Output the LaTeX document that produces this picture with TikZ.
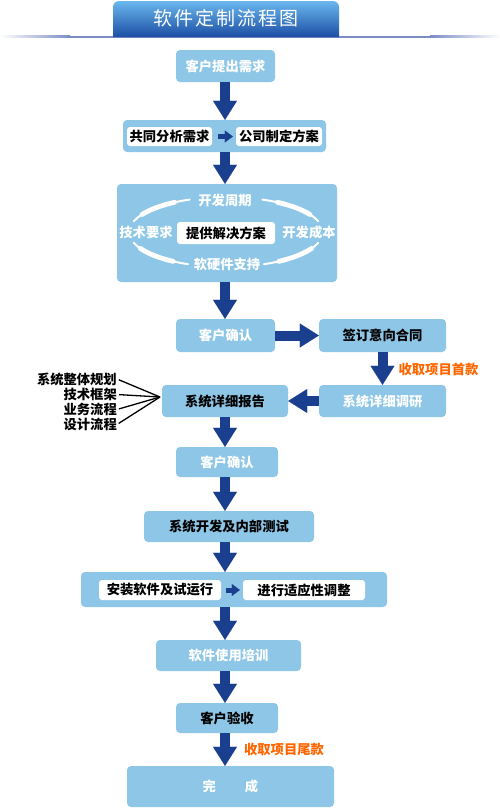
\documentclass[tikz,border=0pt]{standalone}
\usepackage{fontspec}
\setmainfont{Noto Sans CJK SC}
\usetikzlibrary{arrows.meta,calc}
\definecolor{boxblue}{HTML}{8DC6E6}
\definecolor{arrowblue}{HTML}{1B3F8F}
\definecolor{orangetxt}{HTML}{FF6600}
\definecolor{bannertop}{HTML}{6AB8EE}
\definecolor{bannerbot}{HTML}{1C4EA4}
\definecolor{lineblue}{HTML}{7A8CC4}
\begin{document}
\begin{tikzpicture}[x=1pt,y=-1pt,
  txt/.style={font=\fontsize{13.3}{13.3}\selectfont\bfseries},
  box/.style={fill=boxblue, rounded corners=4pt, inner sep=0pt, txt},
  wbox/.style={fill=white, rounded corners=3pt, inner sep=0pt, txt, text=black},
  wtxt/.style={text=white},
  btxt/.style={text=black},
  bigarrow/.style={draw=arrowblue, line width=10pt, -{Triangle[length=19pt,width=24pt,line width=0.01pt]}},
  smallarrow/.style={draw=arrowblue, line width=5pt, -{Triangle[length=8pt,width=12pt,line width=0.01pt]}},
  arcthin/.style={draw=white, line width=2pt, line cap=round},
  arcthick/.style={draw=white, line width=4.8pt, line cap=round},
  side/.style={inner sep=0pt, txt, text=black, anchor=east},
  pay/.style={inner sep=0pt, txt, text=orangetxt},
  fan/.style={draw=black, line width=1.3pt}
]
\useasboundingbox[fill=white] (0,0) rectangle (500,809);

% header line and banner
\shade[left color=white, right color=lineblue] (0,35.5) rectangle (70,37.5);
\fill[lineblue] (70,35.5) rectangle (430,37.5);
\shade[left color=lineblue, right color=white] (430,35.5) rectangle (500,37.5);
\shade[top color=bannertop, bottom color=bannerbot]
  (113,37) -- (113,7) arc[start angle=180,end angle=90,radius=6pt]
  -- (333,1) arc[start angle=90,end angle=0,radius=6pt] -- (339,37) -- cycle;
\node[text=white, font=\fontsize{19}{19}\selectfont, inner sep=0pt] (title) at (226,18)
  {软\kern2pt 件\kern2pt 定\kern2pt 制\kern2pt 流\kern2pt 程\kern2pt 图};

\coordinate (ax) at (225,0);

% boxes
\node[box, wtxt, minimum width=99pt, minimum height=32pt] (t1) at (225.5,66) {客户提出需求};
\node[box, minimum width=203pt, minimum height=32pt] (c2) at (224.5,136) {};
\node[wbox, minimum width=85pt, minimum height=19pt] (w2a) at (169.5,136.5) {共同分析需求};
\node[wbox, minimum width=86pt, minimum height=19pt] (w2b) at (279,136.5) {公司制定方案};

\node[box, minimum width=220pt, minimum height=98pt] (c3) at (227,233) {};
\coordinate (ec) at (226,232);
% tapered white arcs around the centre box
\foreach \a/\b in {162/112, 68/18, 198/247, 293/342}
  \draw[arcthin] (ec) ++(\a:97pt and 35pt)
     arc[start angle=\a,end angle=\b,x radius=97pt,y radius=35pt];
\foreach \a/\b in {150/122, 58/30, 208/237, 303/332}
  \draw[arcthick] (ec) ++(\a:97pt and 35pt)
     arc[start angle=\a,end angle=\b,x radius=97pt,y radius=35pt];
\node[wbox, minimum width=98pt, minimum height=22pt] (w3) at (226,233) {提供解决方案};
\node[txt, wtxt, inner sep=0pt] (k1) at (225,200) {开发周期};
\node[txt, wtxt, inner sep=0pt] (k2) at (146,232) {技术要求};
\node[txt, wtxt, inner sep=0pt] (k3) at (309,232) {开发成本};
\node[txt, wtxt, inner sep=0pt] (k4) at (227,264) {软硬件支持};

\node[box, wtxt, minimum width=99pt, minimum height=33pt] (t4) at (225.5,335.5) {客户确认};
\node[box, btxt, minimum width=127pt, minimum height=33pt] (t5) at (382.5,335.5) {签订意向合同};
\node[box, wtxt, minimum width=127pt, minimum height=32pt] (t6) at (382.5,401) {系统详细调研};
\node[box, btxt, minimum width=126pt, minimum height=32pt] (t7) at (225,401) {系统详细报告};
\node[box, wtxt, minimum width=102pt, minimum height=30pt] (t8) at (227,462) {客户确认};
\node[box, btxt, minimum width=170pt, minimum height=31pt] (t9) at (229,526.5) {系统开发及内部测试};
\node[box, minimum width=306pt, minimum height=35pt] (c10) at (234,589.5) {};
\node[wbox, minimum width=122pt, minimum height=20pt] (w10a) at (160,590) {安装软件及试运行};
\node[wbox, minimum width=122pt, minimum height=20pt] (w10b) at (304,590) {进行适应性调整};
\node[box, wtxt, minimum width=145pt, minimum height=31pt] (t11) at (228.5,655.5) {软件使用培训};
\node[box, btxt, minimum width=102pt, minimum height=30pt] (t12) at (227,718) {客户验收};
\node[box, wtxt, minimum width=207pt, minimum height=41pt] (t13) at (230.5,786.5) {完\hspace{29pt}成};

% side notes
\node[side] (l1) at (117,379) {系统整体规划};
\node[side] (l2) at (117,394.5) {技术框架};
\node[side] (l3) at (117,409.5) {业务流程};
\node[side] (l4) at (117,424.5) {设计流程};
\coordinate (fanpt) at (160,397);
\foreach \n in {l1,l2,l3,l4}
  \draw[fan, shorten <=2pt] (\n.east) -- (fanpt);

% payment labels
\node[pay] (o1) at (438.5,369) {收取项目首款};
\node[pay] (o2) at (284,749) {收取项目尾款};

% arrows
\draw[bigarrow] (t1.south -| ax) -- (c2.north -| ax);
\draw[smallarrow, shorten <=6pt, shorten >=3pt] (w2a.east) -- (w2b.west);
\draw[bigarrow] (c2.south -| ax) -- (c3.north -| ax);
\draw[bigarrow] (c3.south -| ax) -- (t4.north -| ax);
\draw[bigarrow] (t4.east) -- (t5.west);
\draw[bigarrow] (t5.south) -- (t6.north);
\draw[bigarrow] (t6.west) -- (t7.east);
\draw[bigarrow] (t7.south -| ax) -- (t8.north -| ax);
\draw[bigarrow] (t8.south -| ax) -- (t9.north -| ax);
\draw[bigarrow] (t9.south -| ax) -- (c10.north -| ax);
\draw[smallarrow, shorten <=5pt, shorten >=3pt] (w10a.east) -- (w10b.west);
\draw[bigarrow] (c10.south -| ax) -- (t11.north -| ax);
\draw[bigarrow] (t11.south -| ax) -- (t12.north -| ax);
\draw[bigarrow] (t12.south -| ax) -- (t13.north -| ax);
\end{tikzpicture}
\end{document}
